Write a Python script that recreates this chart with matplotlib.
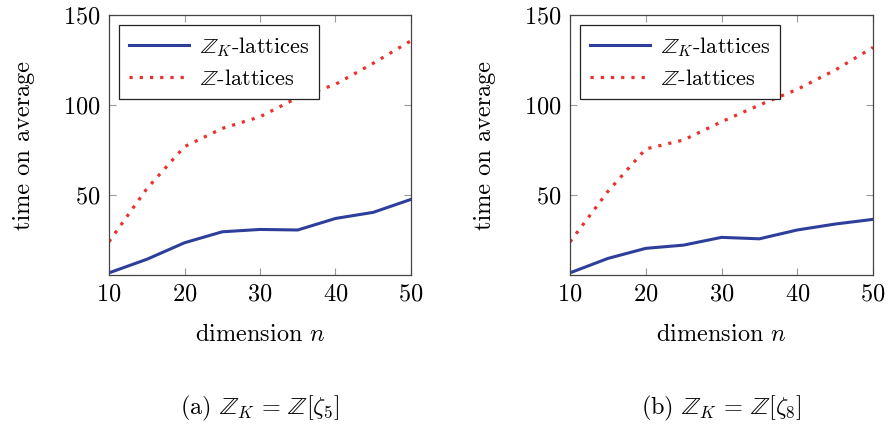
import matplotlib.pyplot as plt

plt.rcParams["font.family"] = "serif"
plt.rcParams["font.serif"] = ["cmr10"]
plt.rcParams["mathtext.fontset"] = "cm"
plt.rcParams["axes.formatter.use_mathtext"] = True

dims = [10, 15, 20, 25, 30, 35, 40, 45, 50]

# (a) Z_K = Z[zeta_5]
zk_a = [6.8, 14.3, 23.5, 29.6, 30.9, 30.6, 37.0, 40.4, 47.6]
z_a = [24.1, 53.5, 76.9, 87.0, 93.5, 104.1, 111.5, 123.2, 135.7]

# (b) Z_K = Z[zeta_8]
zk_b = [6.8, 14.8, 20.4, 22.2, 26.5, 25.7, 30.6, 33.9, 36.5]
z_b = [24.0, 52.0, 75.6, 80.6, 90.7, 100.0, 108.7, 119.4, 132.0]

captions = [r"(a) $\mathbb{Z}_K\,=\,\mathbb{Z}[\zeta_5]$",
            r"(b) $\mathbb{Z}_K\,=\,\mathbb{Z}[\zeta_8]$"]

blue = "#2e3f9b"
red = "#e8322b"
fs = 17.5

fig = plt.figure(figsize=(8.89, 4.24), dpi=100)
W, H = 889, 424
boxes = [(109, 411), (570, 873)]
top, bottom = 15, 275

panels = [(zk_a, z_a), (zk_b, z_b)]
for (x0, x1), (zk, zz), cap in zip(boxes, panels, captions):
    ax = fig.add_axes([x0 / W, 1 - bottom / H, (x1 - x0) / W, (bottom - top) / H])
    ax.plot(dims, zk, color=blue, lw=2.2, solid_joinstyle="round",
            label=r"$\mathbb{Z}_K$-lattices")
    ax.plot(dims, zz, color=red, lw=2.3, linestyle=(0, (1, 2.2)),
            dash_capstyle="butt", label=r"$\mathbb{Z}$-lattices")
    ax.set_xlim(10, 50)
    ax.set_ylim(5.6, 150)
    ax.set_xticks([10, 20, 30, 40, 50])
    ax.set_yticks([50, 100, 150])
    ax.tick_params(direction="in", length=5, color="#999999", labelsize=fs,
                   top=True, right=True, pad=6)
    for s in ax.spines.values():
        s.set_color("#444444")
        s.set_linewidth(0.9)
    ax.set_xlabel(r"dimension $n$", fontsize=fs, labelpad=13)
    ax.set_ylabel("time on average", fontsize=fs, labelpad=20)
    leg = ax.legend(loc="upper left", fontsize=16, frameon=True, fancybox=False,
                    edgecolor="#222222", framealpha=1, borderaxespad=0.45,
                    handlelength=2.7, handletextpad=0.5, borderpad=0.45,
                    labelspacing=0.45)
    leg.get_frame().set_linewidth(0.9)
    fig.text((x0 + x1) / 2 / W, 1 - 408 / H, cap, ha="center", va="center",
             fontsize=fs)

fig.savefig("out.png", dpi=100)
